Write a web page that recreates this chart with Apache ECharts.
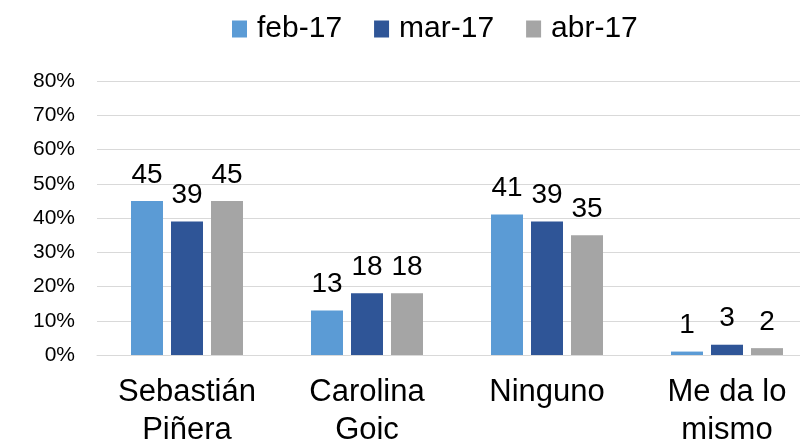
<!DOCTYPE html>
<html>
<head>
<meta charset="utf-8">
<script src="https://cdn.jsdelivr.net/npm/echarts@6/dist/echarts.min.js"></script>
<style>
  html, body { margin: 0; padding: 0; background: #fff; }
  #chart { width: 800px; height: 443px; }
</style>
</head>
<body>
<div id="chart"></div>
<script>
// categorias y series (valores en %)
var categories = ['Sebastián\nPiñera', 'Carolina\nGoic', 'Ninguno', 'Me da lo\nmismo'];
var feb17 = [45, 13, 41, 1];
var mar17 = [39, 18, 39, 3];
var abr17 = [45, 18, 35, 2];
var seriesNames = ['feb-17', 'mar-17', 'abr-17'];
var colors = ['#5B9BD5', '#2F5597', '#A5A5A5'];

var font = 'Liberation Sans, Arial, sans-serif';

function makeSeries(name, data, color) {
    return {
        name: name,
        type: 'bar',
        data: data,
        barWidth: 32,
        barGap: '25%',
        itemStyle: { color: color },
        label: {
            show: true,
            position: 'top',
            distance: 12,
            color: '#000',
            fontFamily: font,
            fontSize: 28
        }
    };
}

var myChart = echarts.init(document.getElementById('chart'));
var option = {
    animation: false,
    color: colors,
    legend: {
        left: 232,
        top: 14,
        padding: 0,
        icon: 'rect',
        itemWidth: 15,
        itemHeight: 17,
        itemGap: 32,
        textStyle: {
            fontFamily: font,
            fontSize: 30,
            color: '#000',
            padding: [0, 0, 0, 5]
        },
        data: seriesNames
    },
    grid: {
        left: 97,
        top: 81,
        width: 720,
        height: 274,
        containLabel: false,
        outerBoundsMode: 'none'
    },
    xAxis: {
        type: 'category',
        data: categories,
        axisLine: { lineStyle: { color: '#d9d9d9', width: 1 } },
        axisTick: { show: false },
        axisLabel: {
            interval: 0,
            margin: 18,
            color: '#000',
            fontFamily: font,
            fontSize: 31,
            lineHeight: 38
        }
    },
    yAxis: {
        type: 'value',
        min: 0,
        max: 80,
        interval: 10,
        axisLine: { show: false },
        axisTick: { show: false },
        splitLine: { lineStyle: { color: '#d9d9d9', width: 1 } },
        axisLabel: {
            formatter: '{value}%',
            margin: 22,
            color: '#000',
            fontFamily: font,
            fontSize: 21
        }
    },
    series: [
        makeSeries(seriesNames[0], feb17, colors[0]),
        makeSeries(seriesNames[1], mar17, colors[1]),
        makeSeries(seriesNames[2], abr17, colors[2])
    ]
};
myChart.setOption(option);
</script>
</body>
</html>
